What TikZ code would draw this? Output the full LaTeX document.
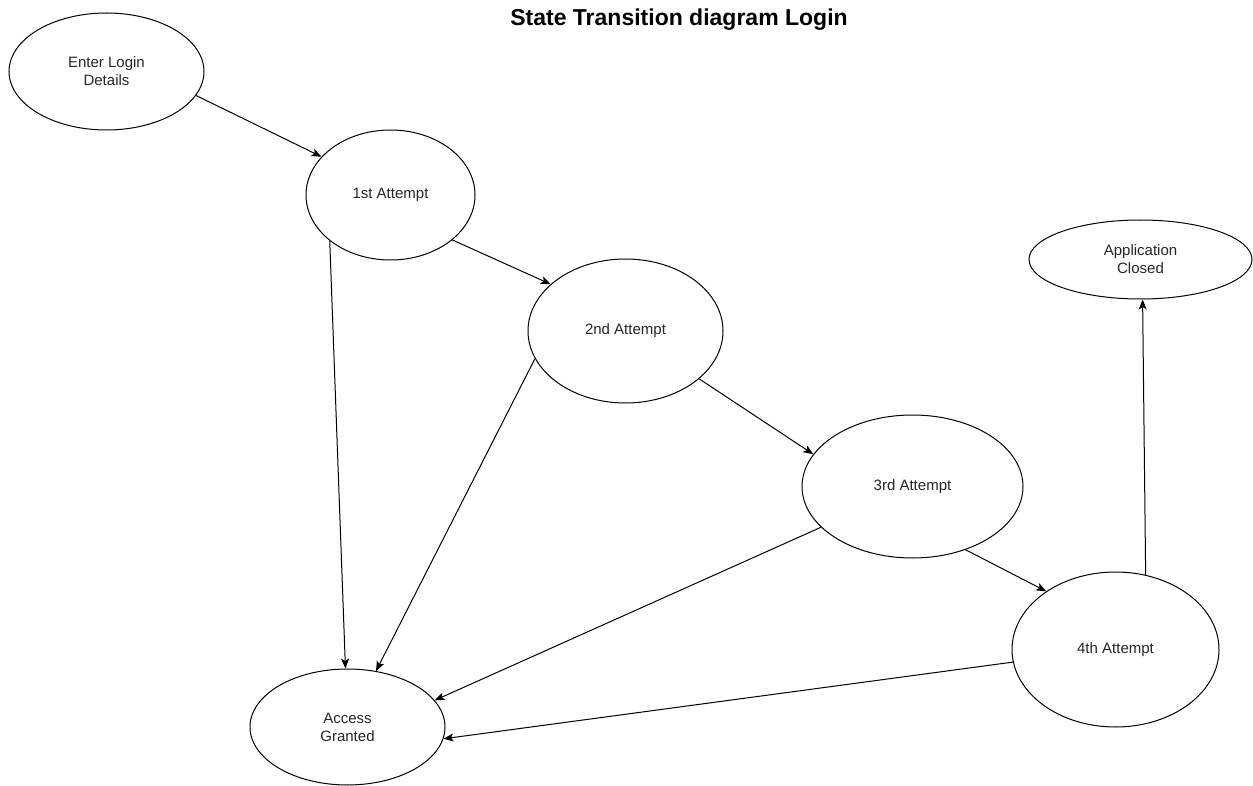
\documentclass[tikz,border=0pt]{standalone}
\usepackage{fontspec}
\setmainfont{Liberation Sans}
\usetikzlibrary{shapes.geometric,arrows.meta}

\begin{document}
\begin{tikzpicture}[x=1pt,y=-1pt,
  state/.style={ellipse, draw=black, line width=1pt, fill=white, inner sep=0pt,
                align=center, font=\fontsize{15}{18}\selectfont, text=black!85},
  trans/.style={draw=black, line width=1pt,
                -{Stealth[length=10pt,width=8pt,inset=2.5pt]}},
  heading/.style={font=\fontsize{23}{27}\selectfont\bfseries, anchor=base, inner sep=0pt}]

  % canvas
  \fill[white] (0,0) rectangle (1253,786);
  \useasboundingbox (0,0) rectangle (1253,786);

  % title
  \node[heading] (title) at (679,26) {State Transition diagram Login};

  % states
  \node[state, minimum width=195pt, minimum height=117pt] (enter)  at (106.5,71.5)  {Enter Login\\Details};
  \node[state, minimum width=169pt, minimum height=130pt] (first)  at (390.5,195)   {1st Attempt};
  \node[state, minimum width=195pt, minimum height=144pt] (second) at (625.5,331)   {2nd Attempt};
  \node[state, minimum width=221pt, minimum height=143pt] (third)  at (912.5,486.5) {3rd Attempt};
  \node[state, minimum width=207pt, minimum height=155pt] (fourth) at (1115.5,649.5){4th Attempt};
  \node[state, minimum width=223pt, minimum height=79pt]  (closed) at (1140.5,259.5){Application\\Closed};
  \node[state, minimum width=195pt, minimum height=116pt] (access) at (347.5,727)   {Access\\Granted};

  % transitions
  \draw[trans] (enter.-15)   -- (first.151);
  \draw[trans] (first.-36)   -- (second.148);
  \draw[trans] (first.-143)  -- (access.92);
  \draw[trans] (second.-163) -- (access.63);
  \draw[trans] (second.-33)  -- (third.162);
  \draw[trans] (third.-156)  -- (access.17);
  \draw[trans] (third.-50)   -- (fourth.140);
  \draw[trans] (fourth.-173) -- (access.-7);
  \draw[trans] (fourth.68.5) -- (closed.-87);
\end{tikzpicture}
\end{document}
